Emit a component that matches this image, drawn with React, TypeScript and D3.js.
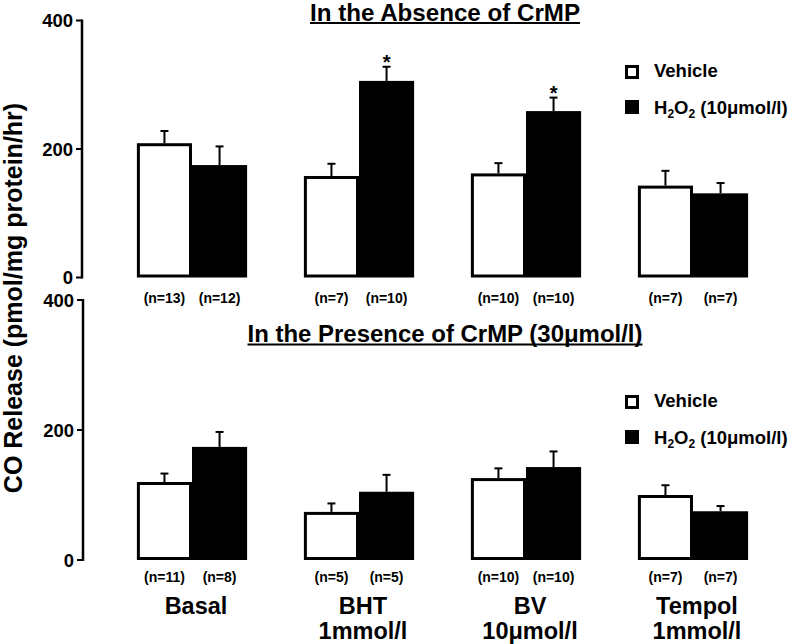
import React from 'react';
import * as d3 from 'd3';

const categories = ['Basal', 'BHT', 'BV', 'Tempol'];
const categorySub = ['', '1mmol/l', '10μmol/l', '1mmol/l'];
const series = ['Vehicle', 'H2O2'];
const yTicks = [0, 200, 400];

// In the absence of CrMP
const absVehicle = [209, 158, 162, 143];
const absVehicleErr = [19, 19, 16, 23];
const absH2O2 = [175, 306, 259, 131];
const absH2O2Err = [29, 22, 21, 16];
const absVehicleN = [13, 7, 10, 7];
const absH2O2N = [12, 10, 10, 7];
const absH2O2Sig = [false, true, true, false];

// In the presence of CrMP (30 µmol/l)
const presVehicle = [120, 74, 126, 100];
const presVehicleErr = [13, 13, 15, 15];
const presH2O2 = [174, 105, 143, 75];
const presH2O2Err = [23, 26, 24, 8];
const presVehicleN = [11, 5, 10, 7];
const presH2O2N = [8, 5, 10, 7];
const presH2O2Sig = [false, false, false, false];

const FONT = '"Liberation Sans", Arial, Helvetica, sans-serif';

const x0 = d3.scaleBand<string>().domain(categories).range([108.5, 776.5]).paddingInner(0.34).paddingOuter(0.17);
const x1 = d3.scaleBand<string>().domain(series).range([0, x0.bandwidth()]);

type PanelProps = {
  title: string;
  titleY: number;
  titleLen: number;
  y0: number;
  y400: number;
  axisX: number;
  vehicle: number[];
  vehicleErr: number[];
  h2o2: number[];
  h2o2Err: number[];
  vehicleN: number[];
  h2o2N: number[];
  sig: boolean[];
  nY: number;
  legendY: number;
};

function Panel(p: PanelProps) {
  const y = d3.scaleLinear().domain([0, 400]).range([p.y0, p.y400]);
  const bars: any[] = [];
  categories.forEach((c, i) => {
    const vals = [p.vehicle[i], p.h2o2[i]];
    const errs = [p.vehicleErr[i], p.h2o2Err[i]];
    const ns = [p.vehicleN[i], p.h2o2N[i]];
    series.forEach((s, j) => {
      const bx = (x0(c) as number) + (x1(s) as number);
      const bw = x1.bandwidth();
      const cx = bx + bw / 2;
      const top = y(vals[j]);
      const errTop = y(vals[j] + errs[j]);
      bars.push(
        <g key={c + s}>
          <line x1={cx} x2={cx} y1={top} y2={errTop} stroke="#000" strokeWidth={2} />
          <line x1={cx - 4} x2={cx + 4} y1={errTop} y2={errTop} stroke="#000" strokeWidth={2} />
          {j === 0 ? (
            <rect x={bx + 1.5} y={top + 1.5} width={bw - 3} height={p.y0 - top - 3} fill="#fff" stroke="#000" strokeWidth={3} />
          ) : (
            <rect x={bx} y={top} width={bw} height={p.y0 - top} fill="#000" />
          )}
          {j === 1 && p.sig[i] ? (
            <text x={cx} y={errTop + 2} textAnchor="middle" fontSize={20} fontWeight="bold" fontFamily={FONT}>*</text>
          ) : null}
          <text x={cx} y={p.nY} textAnchor="middle" fontSize={14} fontWeight="bold" fontFamily={FONT}>{`(n=${ns[j]})`}</text>
        </g>
      );
    });
  });
  const tx = 445;
  return (
    <g>
      <text x={tx - p.titleLen / 2} y={p.titleY} fontSize={23} fontWeight="bold" fontFamily={FONT} textLength={p.titleLen} lengthAdjust="spacingAndGlyphs">{p.title}</text>
      <rect x={tx - p.titleLen / 2} y={p.titleY + 1.5} width={p.titleLen} height={2} fill="#000" />
      <line x1={p.axisX} x2={p.axisX} y1={y(0) + 1} y2={y(400) - 1} stroke="#000" strokeWidth={2.5} />
      {yTicks.map((t) => (
        <g key={t}>
          <line x1={p.axisX - 6} x2={p.axisX} y1={y(t)} y2={y(t)} stroke="#000" strokeWidth={2} />
          <text x={p.axisX - 9} y={y(t)} dy="0.36em" textAnchor="end" fontSize={18.5} fontWeight="bold" fontFamily={FONT}>{t}</text>
        </g>
      ))}
      {bars}
      <g>
        <rect x={626.5} y={p.legendY + 1.5} width={11} height={11} fill="#fff" stroke="#000" strokeWidth={3} />
        <text x={654} y={p.legendY + 12} fontSize={18.5} fontWeight="bold" fontFamily={FONT}>Vehicle</text>
        <rect x={625} y={p.legendY + 35} width={14} height={14} fill="#000" />
        <text x={654} y={p.legendY + 49} fontSize={18.5} fontWeight="bold" fontFamily={FONT}>
          H<tspan fontSize={12} dy={4}>2</tspan><tspan dy={-4}>O</tspan><tspan fontSize={12} dy={4}>2</tspan><tspan dy={-4}> (10μmol/l)</tspan>
        </text>
      </g>
    </g>
  );
}

export default function App() {
  return (
    <div style={{ position: 'absolute', left: 0, top: 0 }}>
      <svg width={792} height={644} style={{ display: 'block', background: '#fff' }}>
        <rect x={0} y={0} width={792} height={644} fill="#fff" />
        <text transform="translate(22,298) rotate(-90)" textAnchor="middle" fontSize={25} fontWeight="bold" fontFamily={FONT}>CO Release (pmol/mg protein/hr)</text>
        <Panel
          title="In the Absence of CrMP"
          titleY={20.5}
          titleLen={270}
          y0={277.5}
          y400={20.5}
          axisX={82}
          vehicle={absVehicle}
          vehicleErr={absVehicleErr}
          h2o2={absH2O2}
          h2o2Err={absH2O2Err}
          vehicleN={absVehicleN}
          h2o2N={absH2O2N}
          sig={absH2O2Sig}
          nY={303}
          legendY={65}
        />
        <Panel
          title="In the Presence of CrMP (30μmol/l)"
          titleY={342}
          titleLen={395}
          y0={560}
          y400={300}
          axisX={83}
          vehicle={presVehicle}
          vehicleErr={presVehicleErr}
          h2o2={presH2O2}
          h2o2Err={presH2O2Err}
          vehicleN={presVehicleN}
          h2o2N={presH2O2N}
          sig={presH2O2Sig}
          nY={582}
          legendY={395}
        />
        {categories.map((c, i) => (
          <g key={c}>
            <text x={(x0(c) as number) + x0.bandwidth() / 2 + 4} y={614} textAnchor="middle" fontSize={23.5} fontWeight="bold" fontFamily={FONT}>{c}</text>
            {categorySub[i] ? (
              <text x={(x0(c) as number) + x0.bandwidth() / 2 + 4} y={639} textAnchor="middle" fontSize={23.5} fontWeight="bold" fontFamily={FONT}>{categorySub[i]}</text>
            ) : null}
          </g>
        ))}
      </svg>
    </div>
  );
}
